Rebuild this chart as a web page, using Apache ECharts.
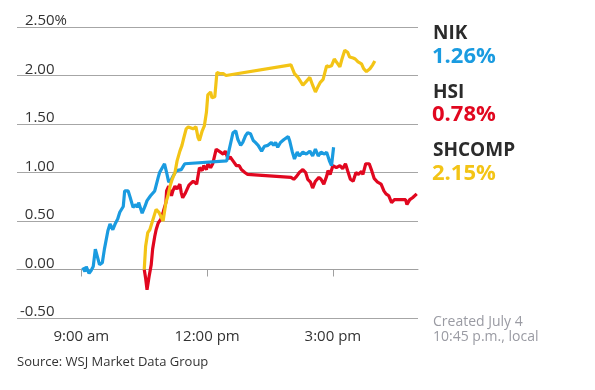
<!DOCTYPE html>
<html>
<head>
<meta charset="utf-8">
<script src="https://cdn.jsdelivr.net/npm/echarts@6/dist/echarts.min.js"></script>
<style>
html,body{margin:0;padding:0;background:#fff;}
#chart{width:595px;height:390px;}
</style>
</head>
<body>
<div id="chart"></div>
<script>
// ---- Data (Tokyo time, % change) ----
const nikTimes = ['9:02','9:05','9:07','9:11','9:14','9:17','9:20','9:22','9:26','9:30','9:33','9:38','9:41','9:45','9:49','9:52','9:55','10:00','10:02','10:07','10:10','10:14','10:18','10:20','10:22','10:27','10:31','10:34','10:39','10:45','10:50','10:52','10:59','11:02','11:05','11:09','11:11','11:16','11:23','11:28','12:28','12:37','12:41','12:44','12:48','12:51','12:55','12:58','13:02','13:06','13:09','13:13','13:18','13:22','13:27','13:32','13:35','13:38','13:41','13:45','13:50','13:56','13:58','14:02','14:05','14:09','14:12','14:17','14:22','14:27','14:31','14:35','14:39','14:43','14:48','14:51','14:55','14:58','15:01'];
const nikValues = [0.02,-0.02,0.03,-0.04,-0.01,0.03,0.21,0.22,0.05,0.07,0.21,0.40,0.47,0.41,0.48,0.52,0.59,0.65,0.81,0.81,0.74,0.64,0.67,0.64,0.69,0.58,0.65,0.71,0.76,0.81,0.95,1.00,1.09,1.00,0.90,0.93,0.96,1.02,1.03,1.09,1.12,1.41,1.43,1.34,1.28,1.31,1.38,1.41,1.40,1.33,1.31,1.28,1.22,1.27,1.28,1.31,1.28,1.31,1.26,1.31,1.34,1.37,1.33,1.21,1.14,1.21,1.17,1.21,1.19,1.22,1.17,1.24,1.17,1.21,1.19,1.21,1.12,1.07,1.26];

const hsiTimes = ['10:30','10:32','10:34','10:37','10:40','10:42','10:45','10:47','10:50','10:52','10:54','10:57','11:01','11:02','11:05','11:09','11:11','11:14','11:17','11:21','11:23','11:25','11:29','11:34','11:40','11:45','11:49','11:53','11:55','11:59','12:01','12:05','12:08','12:13','12:15','12:19','12:23','12:26','12:30','12:33','12:37','12:42','12:46','12:49','12:54','12:58','14:00','14:04','14:08','14:12','14:17','14:21','14:24','14:28','14:31','14:35','14:40','14:43','14:47','14:51','14:53','14:56','15:00','15:05','15:10','15:14','15:18','15:21','15:25','15:29','15:33','15:36','15:41','15:43','15:47','15:52','15:55','15:59','16:04','16:09','16:13','16:16','16:20','16:24','16:28','16:33','16:39','16:44','16:46','16:50','16:54','17:00'];
const hsiValues = [0.00,-0.09,-0.21,-0.07,0.05,0.21,0.34,0.41,0.48,0.47,0.52,0.59,0.69,0.81,0.86,0.76,0.81,0.86,0.83,0.88,0.79,0.74,0.79,0.87,0.91,0.88,1.05,1.02,1.07,1.03,1.09,1.05,1.09,1.24,1.26,1.21,1.19,1.22,1.14,1.16,1.12,1.07,1.07,1.03,1.00,0.98,0.95,0.93,0.96,1.00,1.03,1.00,0.93,0.90,0.84,0.91,0.95,0.93,0.88,0.96,1.02,0.98,1.07,1.05,1.07,1.04,1.09,1.02,0.93,0.91,1.00,0.98,1.01,0.98,1.09,1.09,1.03,0.94,0.90,0.88,0.81,0.78,0.76,0.69,0.72,0.72,0.72,0.72,0.67,0.72,0.74,0.78];

const shTimes = ['10:30','10:32','10:35','10:38','10:40','10:44','10:47','10:51','10:53','10:57','11:01','11:04','11:07','11:10','11:14','11:17','11:21','11:24','11:26','11:30','11:33','11:35','11:40','11:44','11:47','11:49','11:53','11:56','11:59','12:01','12:05','12:07','12:11','12:14','12:18','12:20','12:23','12:27','14:00','14:05','14:10','14:12','14:17','14:22','14:27','14:31','14:35','14:39','14:42','14:46','14:51','14:54','14:58','15:02','15:06','15:10','15:13','15:17','15:21','15:24','15:29','15:32','15:36','15:41','15:44','15:48','15:53','15:57','16:00'];
const shValues = [0.00,0.24,0.38,0.41,0.40,0.55,0.62,0.59,0.60,0.50,0.69,0.76,0.86,0.93,1.00,1.12,1.22,1.28,1.34,1.45,1.47,1.48,1.45,1.47,1.36,1.33,1.43,1.48,1.62,1.80,1.83,1.77,1.78,2.03,2.02,2.00,2.02,2.00,2.11,2.02,1.98,1.98,1.90,1.94,1.98,1.90,1.83,1.89,1.93,1.96,2.10,2.09,2.10,2.17,2.13,2.09,2.17,2.26,2.24,2.19,2.18,2.17,2.14,2.12,2.07,2.04,2.07,2.11,2.15];

const seriesNames = ['NIK', 'HSI', 'SHCOMP'];
const lastValues = ['1.26%', '0.78%', '2.15%'];
const xTickHours = [9, 12, 15];
const sourceText = 'Source: WSJ Market Data Group';
const noteLines = ['Created July 4', '10:45 p.m., local'];

// ---- Helpers ----
const toHour = t => { const [h, m] = t.split(':').map(Number); return h + m / 60; };
const pairs = (ts, vs) => ts.map((t, i) => [toHour(t), vs[i]]);
const fmtHour = h => h < 12 ? h + ':00 am' : (h === 12 ? 12 : h - 12) + ':00 pm';

const COLORS = { NIK: '#1a9be0', HSI: '#e1071f', SHCOMP: '#f3c416' };
const FONT = '"Open Sans", "DejaVu Sans", sans-serif';

const chart = echarts.init(document.getElementById('chart'), null, { renderer: 'canvas' });

const legendTexts = [];
const legendY = [[36, 60], [95, 118], [153, 177]];
seriesNames.forEach((n, i) => {
  legendTexts.push({ type: 'text', left: 433, top: legendY[i][0] - 12,
    style: { text: n, font: 'bold 19px ' + FONT, fill: '#2b2b2b' } });
  legendTexts.push({ type: 'text', left: 432, top: legendY[i][1] - 14,
    style: { text: lastValues[i], font: 'bold 22px ' + FONT, fill: COLORS[n] } });
});

const option = {
  animation: false,
  backgroundColor: '#ffffff',
  grid: { left: 17, right: 177, top: 27, bottom: 72, containLabel: false },
  xAxis: {
    type: 'value', min: 7.465, max: 17.03,
    axisLine: { show: true, lineStyle: { color: '#a0a0a0', width: 1 } },
    axisTick: { show: true, customValues: xTickHours, length: 7, lineStyle: { color: '#a0a0a0' } },
    axisLabel: { customValues: xTickHours, formatter: v => fmtHour(v), color: '#333', fontSize: 15, fontFamily: FONT, margin: 11 },
    splitLine: { show: false }
  },
  yAxis: {
    type: 'value', min: -0.5, max: 2.5, interval: 0.5,
    axisLine: { show: false }, axisTick: { show: false },
    splitLine: { show: true, lineStyle: { color: ['#a6a6a6', '#000000', '#a6a6a6', '#a6a6a6', '#a6a6a6', '#a6a6a6', '#a6a6a6'], width: 1 } },
    axisLabel: {
      inside: true, margin: 50, align: 'right', verticalAlign: 'bottom',
      showMinLabel: true, showMaxLabel: true,
      formatter: v => v === 2.5 ? '{n|' + v.toFixed(2) + '}{n|%}' : '{m|' + v.toFixed(2) + '}',
      rich: {
        n: { fontSize: 15, lineHeight: 12, color: '#333', fontFamily: FONT },
        m: { fontSize: 15, lineHeight: 12, color: '#333', fontFamily: FONT, padding: [0, 12.5, 0, 0] }
      }
    }
  },
  series: [
    { name: 'HSI', type: 'line', data: pairs(hsiTimes, hsiValues), showSymbol: false, lineStyle: { color: COLORS.HSI, width: 3.2 }, itemStyle: { color: COLORS.HSI } },
    { name: 'NIK', type: 'line', data: pairs(nikTimes, nikValues), showSymbol: false, lineStyle: { color: COLORS.NIK, width: 3.2 }, itemStyle: { color: COLORS.NIK } },
    { name: 'SHCOMP', type: 'line', data: pairs(shTimes, shValues), showSymbol: false, lineStyle: { color: COLORS.SHCOMP, width: 3.2 }, itemStyle: { color: COLORS.SHCOMP } }
  ],
  graphic: legendTexts.concat([
    { type: 'text', left: 433, top: 315, style: { text: noteLines.join('\n'), font: '14px ' + FONT, fill: '#9a9ba3', lineHeight: 15 } },
    { type: 'text', left: 17, top: 356, style: { text: sourceText, font: '13px ' + FONT, fill: '#333' } }
  ])
};
chart.setOption(option);
</script>
</body>
</html>
